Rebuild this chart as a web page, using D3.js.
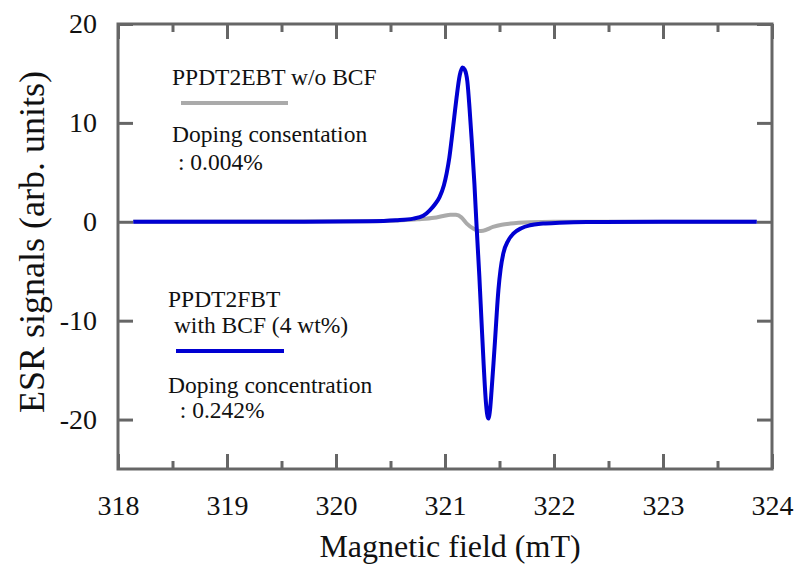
<!DOCTYPE html>
<html>
<head>
<meta charset="utf-8">
<script src="https://cdn.jsdelivr.net/npm/d3@7"></script>
<style>
  body { margin: 0; background: #fff; }
  svg, svg text { font-family: "Liberation Serif", "Times New Roman", Times, "DejaVu Serif", serif !important; }
  svg text { fill: #111; }
  .axis path { display: none; }
  .axis line { stroke: #666; stroke-width: 3; }
</style>
</head>
<body>
<div id="chart"></div>
<script>
// data
var xTicks = [318, 319, 320, 321, 322, 323, 324];
var xMinor = [318.5, 319.5, 320.5, 321.5, 322.5, 323.5];
var yTicks = [20, 10, 0, -10, -20];

// PPDT2EBT w/o BCF (gray)
var grayField  = [318.14, 320.3, 320.6, 320.75, 320.9, 320.985, 321.05, 321.1, 321.15, 321.2, 321.26, 321.31, 321.35, 321.44, 321.52, 321.6, 321.78, 322.0, 323.86];
var graySignal = [0, 0.05, 0.15, 0.25, 0.4, 0.59, 0.72, 0.7, 0.45, -0.18, -0.69, -0.92, -0.9, -0.52, -0.3, -0.18, -0.05, 0, 0];

// PPDT2FBT with BCF (blue)
var blueField  = [318.14, 319.5, 320.3, 320.55, 320.71, 320.8, 320.86, 320.91, 320.95, 320.99, 321.015, 321.04, 321.06, 321.085, 321.107, 321.135, 321.16, 321.18, 321.205, 321.225, 321.245, 321.27, 321.29, 321.315, 321.336, 321.355, 321.375, 321.397, 321.415, 321.427, 321.445, 321.459, 321.475, 321.49, 321.51, 321.535, 321.58, 321.627, 321.7, 321.78, 321.9, 322.05, 322.3, 323.0, 323.86];
var blueSignal = [0, 0, 0.05, 0.15, 0.32, 0.6, 1.16, 1.8, 2.5, 3.7, 4.9, 6.5, 8.25, 10.6, 12.64, 14.8, 15.6, 15.4, 14.2, 11.5, 8.25, 3.8, -0.5, -5.5, -10.3, -14.5, -18.2, -19.9, -18.8, -17.1, -14.3, -12.0, -9.2, -6.9, -4.8, -3.2, -1.9, -1.2, -0.65, -0.35, -0.18, -0.1, -0.03, 0, 0];

var W = 797, H = 567;
var margin = {top: 24, right: 25, bottom: 98, left: 118}
  , width = W - margin.left - margin.right
  , height = H - margin.top - margin.bottom;

var svg = d3.select("#chart").append("svg")
    .attr("width", W)
    .attr("height", H)
    .attr("font-family", "Liberation Serif, Times New Roman, serif");

var g = svg.append("g")
    .attr("transform", "translate(" + margin.left + "," + margin.top + ")");

var xScale = d3.scaleLinear().domain([318, 324]).range([0, width]);
var yScale = d3.scaleLinear().domain([-25, 20]).range([height, 0]);

var plain = function(d) { return String(d); }; // hyphen minus like the original

// bottom axis with labels
var xAxis = g.append("g")
    .attr("class", "axis")
    .attr("transform", "translate(0," + height + ")")
    .call(d3.axisBottom(xScale).tickValues(xTicks).tickFormat(plain).tickSize(-15).tickPadding(26));
xAxis.attr("font-family", null);
xAxis.selectAll("text").style("font-size", "28px");

// minor x ticks, bottom and top
g.append("g").attr("class", "axis")
    .attr("transform", "translate(0," + height + ")")
    .call(d3.axisBottom(xScale).tickValues(xMinor).tickSize(-8).tickFormat(""));
g.append("g").attr("class", "axis")
    .call(d3.axisTop(xScale).tickValues(xTicks).tickSize(-15).tickFormat(""));
g.append("g").attr("class", "axis")
    .call(d3.axisTop(xScale).tickValues(xMinor).tickSize(-8).tickFormat(""));

// left axis with labels
var yAxis = g.append("g")
    .attr("class", "axis")
    .call(d3.axisLeft(yScale).tickValues(yTicks).tickFormat(plain).tickSize(-15).tickPadding(21));
yAxis.attr("font-family", null);
yAxis.selectAll("text").style("font-size", "28px");

g.append("g").attr("class", "axis")
    .attr("transform", "translate(" + width + ",0)")
    .call(d3.axisRight(yScale).tickValues(yTicks).tickSize(-15).tickFormat(""));

// frame
g.append("rect")
    .attr("x", 0).attr("y", 0)
    .attr("width", width).attr("height", height)
    .attr("fill", "none")
    .attr("stroke", "#666")
    .attr("stroke-width", 3);

var line = d3.line()
    .x(function(d) { return xScale(d[0]); })
    .y(function(d) { return yScale(d[1]); })
    .curve(d3.curveMonotoneX);

var grayData = grayField.map(function(f, i) { return [f, graySignal[i]]; });
var blueData = blueField.map(function(f, i) { return [f, blueSignal[i]]; });

g.append("path")
    .datum(grayData)
    .attr("fill", "none")
    .attr("stroke", "#aaaaaa")
    .attr("stroke-width", 4)
    .attr("d", line);

g.append("path")
    .datum(blueData)
    .attr("fill", "none")
    .attr("stroke", "#0000d2")
    .attr("stroke-width", 4)
    .attr("d", line);

// legend / annotations (page coords)
var ann = svg.append("g").style("font-size", "23.5px");
ann.append("text").attr("x", 172).attr("y", 85).text("PPDT2EBT w/o BCF");
ann.append("line").attr("x1", 181).attr("x2", 288).attr("y1", 103).attr("y2", 103)
    .attr("stroke", "#aaaaaa").attr("stroke-width", 4);
ann.append("text").attr("x", 172).attr("y", 142).text("Doping consentation");
ann.append("text").attr("x", 172).attr("y", 170).attr("xml:space", "preserve").text(" : 0.004%");

ann.append("text").attr("x", 168).attr("y", 307).text("PPDT2FBT");
ann.append("text").attr("x", 168).attr("y", 333).attr("xml:space", "preserve").text(" with BCF (4 wt%)");
ann.append("line").attr("x1", 176).attr("x2", 284).attr("y1", 351).attr("y2", 351)
    .attr("stroke", "#0000d2").attr("stroke-width", 4);
ann.append("text").attr("x", 168).attr("y", 393).text("Doping concentration");
ann.append("text").attr("x", 168).attr("y", 418).attr("xml:space", "preserve").text("  : 0.242%");

// axis titles
svg.append("text")
    .attr("x", margin.left + width / 2 + 5)
    .attr("y", 557)
    .attr("text-anchor", "middle")
    .style("font-size", "32px")
    .text("Magnetic field (mT)");

svg.append("text")
    .attr("transform", "translate(44,242) rotate(-90)")
    .attr("text-anchor", "middle")
    .style("font-size", "36px")
    .text("ESR signals (arb. units)");
</script>
</body>
</html>
